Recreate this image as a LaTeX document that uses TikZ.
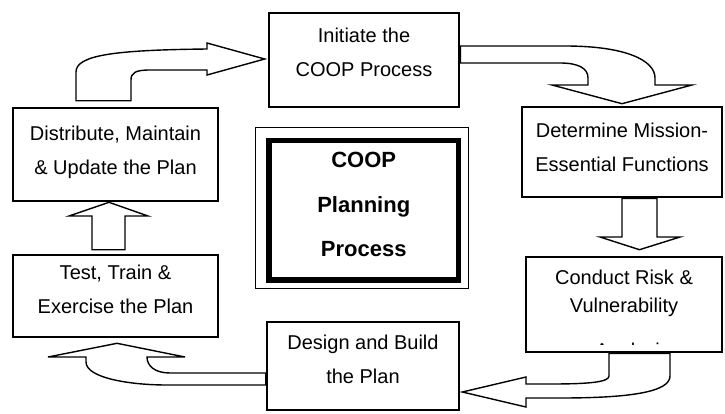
\documentclass[tikz,border=0pt]{standalone}
\usepackage{fontspec}
\setmainfont{Liberation Sans}
\usetikzlibrary{calc,backgrounds}

\tikzset{
  stage/.style={draw, line width=2.6pt, align=center, inner sep=0pt,
    font=\fontsize{20}{34}\selectfont},
  pad/.style={execute at end node={\rule[-#1]{0pt}{#1}}},
  blockarrow/.style={draw, line width=1.4pt, fill=white, line join=miter},
}

\begin{document}
\begin{tikzpicture}[x=1pt,y=-1pt]
\useasboundingbox (0,0) rectangle (725,413);

% the six steps
\node[stage, minimum width=190pt, minimum height=94pt, pad=16pt] (init) at (364,60) {Initiate the\\COOP Process};
\node[stage, minimum width=200pt, minimum height=90pt, pad=10pt] (determ) at (622,152) {Determine Mission-\\Essential Functions};
\node[stage, minimum width=196pt, minimum height=95pt, pad=27pt,
  font=\fontsize{20}{28}\selectfont] (conduct) at (624,304.5) {Conduct Risk \&\\Vulnerability};
\node[stage, minimum width=192pt, minimum height=88pt, pad=14pt] (design) at (363,366) {Design and Build\\the Plan};
\node[stage, minimum width=205pt, minimum height=82pt, pad=14pt] (test) at (115.5,296) {Test, Train \&\\Exercise the Plan};
\node[stage, minimum width=205pt, minimum height=93pt, pad=9pt] (dist) at (115.5,154.5) {Distribute, Maintain\\\& Update the Plan};

% cut-off third line
\begin{scope}
  \clip (560,342) rectangle (700,344.6);
  \node[anchor=base, inner sep=0pt, font=\fontsize{20}{34}\selectfont] (anal) at (632.5,357) {Analysis};
\end{scope}

% centre
\node[draw, line width=5.5pt, minimum width=189.5pt, minimum height=139.5pt, inner sep=0pt,
  align=center, font=\fontsize{22}{44.5}\selectfont\bfseries, pad=11pt] (core) at (363.75,210.25) {COOP\\Planning\\Process};
\draw[line width=1.2pt] ($(core.north west)+(-10.5,-10)$) rectangle ($(core.south east)+(7,5.5)$);

% block arrows
\begin{scope}[on background layer]
\draw[blockarrow] ($(dist.north -| 76,0)+(0,-6)$) -- (76,72) .. controls (76,55) and (115,50) .. (207,49)
  -- (207,43) -- ($(init.west)+(-3,-1)$) -- (207,75) -- (207,70) -- (150,70)
  .. controls (135,70) and (131,73) .. (131,80) -- ($(dist.north -| 131,0)+(0,-6)$) -- cycle;
\draw[blockarrow] (init.east |- 0,46) -- (565,46) .. controls (625,46) and (655,60) .. (655,78)
  -- (655,85) -- (692,85) -- ($(determ.north)+(0,-2)$) -- (552,85) -- (588,85) -- (588,78)
  .. controls (588,68) and (578,63) .. (560,63) -- (init.east |- 0,63) -- cycle;
\draw[blockarrow] (determ.south -| 622,0) -- (622,237) -- (600,237) -- ($(conduct.north -| 639.5,0)+(0,-6)$)
  -- (680,237) -- (657,237) -- (determ.south -| 657,0) -- cycle;
\draw[blockarrow] (conduct.south -| 609,0) -- (609,376) .. controls (609,382) and (590,384) .. (550,384)
  -- (526,384) -- (526,377) -- ($(design.east |- 0,392)+(2,0)$) -- (526,407) -- (526,398) -- (560,398)
  .. controls (630,398) and (670,392) .. (670,376) -- (conduct.south -| 670,0) -- cycle;
\draw[blockarrow] (design.west |- 0,373) -- (170,373) .. controls (155,373) and (147,366) .. (147,357)
  -- (185,357) -- ($(test.south -| 117,0)+(0,5)$) -- (48,357) -- (86,357) -- (86,362)
  .. controls (86,378) and (130,385) .. (167,385) -- (design.west |- 0,385) -- cycle;
\draw[blockarrow] ($(test.north -| 92,0)+(0,-4)$) -- (92,216) -- (69,216) -- (dist.south -| 109,0)
  -- (148,216) -- (125,216) -- ($(test.north -| 125,0)+(0,-4)$) -- cycle;
\end{scope}
\end{tikzpicture}
\end{document}
